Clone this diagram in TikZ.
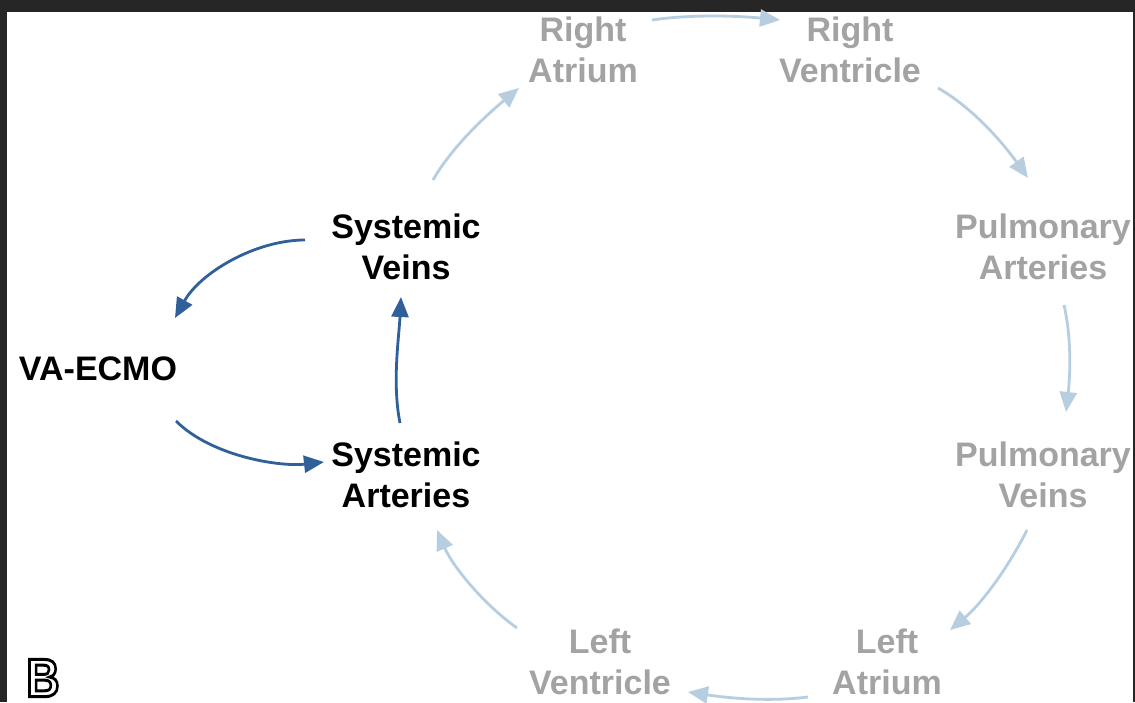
\documentclass[tikz,border=0pt]{standalone}
\usepackage{fontspec}
\setmainfont{Liberation Sans}
\usetikzlibrary{arrows.meta}
\definecolor{grayt}{HTML}{A3A3A3}
\definecolor{lblue}{HTML}{B7CEE1}
\definecolor{dblue}{HTML}{30609A}
\definecolor{framec}{HTML}{262626}
\newcommand{\outlinedtext}[1]{\special{pdf:literal direct 2 Tr 3 w 0 G}#1\special{pdf:literal direct 0 Tr 0 w}}
\begin{document}
\begin{tikzpicture}[x=1pt,y=-1pt,
  lbl/.style={font=\bfseries\fontsize{34}{41}\selectfont, align=center, inner sep=0pt},
  grey/.style={lbl, text=grayt},
  blk/.style={lbl, text=black},
  larrow/.style={draw=lblue, line width=2.8pt, -{Triangle[length=20pt,width=17pt]}},
  darrow/.style={draw=dblue, line width=2.8pt, -{Triangle[length=20pt,width=17pt]}},
  bletter/.style={font=\bfseries\fontsize{54}{54}\selectfont, inner sep=0pt, xscale=0.85}]
\useasboundingbox (0,0) rectangle (1135,702);
\fill[framec] (0,0) rectangle (1135,702);
\fill[white] (7,12) rectangle (1133,702);
% nodes
\node[grey] (ra) at (583,50) {Right\\Atrium};
\node[grey] (rv) at (850,50) {Right\\Ventricle};
\node[grey] (pa) at (1043,247) {Pulmonary\\Arteries};
\node[grey] (pv) at (1043,475) {Pulmonary\\Veins};
\node[grey] (la) at (887,662) {Left\\Atrium};
\node[grey] (lv) at (600,662) {Left\\Ventricle};
\node[blk] (sa) at (406,475) {Systemic\\Arteries};
\node[blk] (sv) at (406,247) {Systemic\\Veins};
\node[blk] (ecmo) at (98,369) {VA-ECMO};
% outlined B
\node[bletter, text=white] (bl) at (43,678) {\outlinedtext{B}};
% light arrows (heart circuit)
\draw[larrow] ([shift={(69,-30)}]ra.center) .. controls +(40,-6) and +(-40,-4) .. ([shift={(-70,-30)}]rv.center);
\draw[larrow] ([shift={(88,38)}]rv.center) .. controls +(35,20) and +(-25,-35) .. ([shift={(-15,-69)}]pa.center);
\draw[larrow] ([shift={(21,58)}]pa.center) .. controls +(8,35) and +(4,-35) .. ([shift={(23,-63)}]pv.center);
\draw[larrow] ([shift={(-16,55)}]pv.center) .. controls +(-20,40) and +(30,-25) .. ([shift={(63,-32)}]la.center);
\draw[larrow] ([shift={(-79,35)}]la.center) .. controls +(-40,5) and +(40,6) .. ([shift={(88,30)}]lv.center);
\draw[larrow] ([shift={(-83,-34)}]lv.center) .. controls +(-35,-25) and +(15,35) .. ([shift={(31,55)}]sa.center);
\draw[larrow] ([shift={(27,-67)}]sv.center) .. controls +(20,-35) and +(-30,25) .. ([shift={(-64,38)}]ra.center);
% dark arrows (ECMO loop)
\draw[darrow] ([shift={(-101,-7)}]sv.center) .. controls +(-50,0) and +(25,-45) .. ([shift={(77,-51)}]ecmo.center);
\draw[darrow] ([shift={(78,52)}]ecmo.center) .. controls +(35,35) and +(-45,5) .. ([shift={(-82,-13)}]sa.center);
\draw[darrow] ([shift={(-6,-52)}]sa.center) .. controls +(-8,-40) and +(-2,40) .. ([shift={(-5,50)}]sv.center);
\end{tikzpicture}
\end{document}
